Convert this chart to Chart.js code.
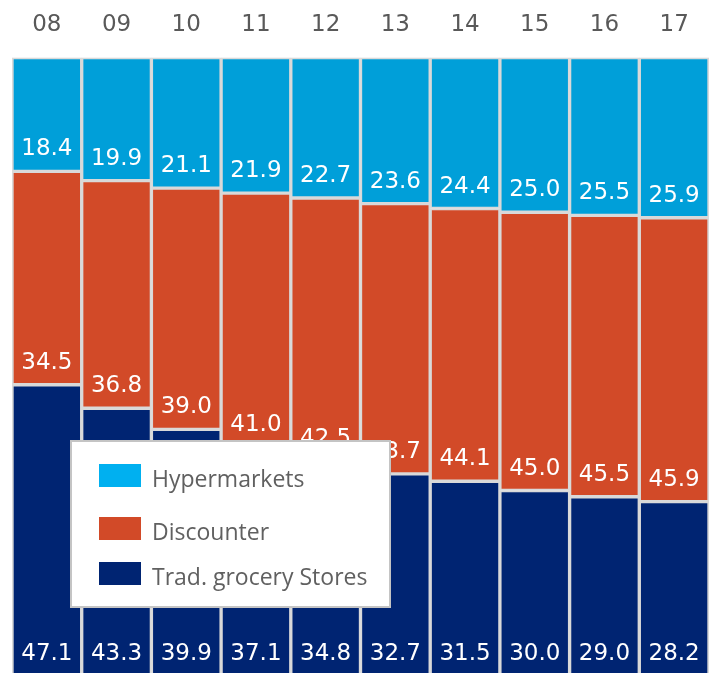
<!DOCTYPE html>
<html>
<head>
<meta charset="utf-8">
<script src="https://cdn.jsdelivr.net/npm/chart.js@4/dist/chart.umd.min.js"></script>
<style>
  html, body { margin: 0; padding: 0; background: #fff; }
  #wrap { width: 709px; height: 673px; }
</style>
</head>
<body>
<div id="wrap"><canvas id="share"></canvas></div>
<script>
// Market share by store format, years 2008-2017 (%)
var years = ["08", "09", "10", "11", "12", "13", "14", "15", "16", "17"];
var tradGrocery = [47.1, 43.3, 39.9, 37.1, 34.8, 32.7, 31.5, 30.0, 29.0, 28.2];
var discounter = [34.5, 36.8, 39.0, 41.0, 42.5, 43.7, 44.1, 45.0, 45.5, 45.9];
var hypermarkets = [18.4, 19.9, 21.1, 21.9, 22.7, 23.6, 24.4, 25.0, 25.5, 25.9];

var legendItems = [
    { text: "Hypermarkets", color: "#00b0f0" },
    { text: "Discounter", color: "#d24a28" },
    { text: "Trad. grocery Stores", color: "#002472" }
];

var numberFont = "'DejaVu Sans', Verdana, sans-serif";

// value labels sit just above the bottom edge of each segment
var segmentLabels = {
    id: "segmentLabels",
    afterDatasetsDraw: function(chart) {
        var ctx = chart.ctx;
        ctx.save();
        ctx.fillStyle = "#ffffff";
        ctx.font = "23px " + numberFont;
        ctx.textAlign = "center";
        ctx.textBaseline = "alphabetic";
        chart.data.datasets.forEach(function(ds, i) {
            chart.getDatasetMeta(i).data.forEach(function(bar, j) {
                ctx.fillText(ds.data[j].toFixed(1), bar.x, bar.base - 16);
            });
        });
        ctx.restore();
    }
};

// boxed legend laid over the lower left of the bars
var boxLegend = {
    id: "boxLegend",
    afterDraw: function(chart) {
        var ctx = chart.ctx;
        ctx.save();
        ctx.fillStyle = "#ffffff";
        ctx.fillRect(71, 441, 319, 166);
        ctx.strokeStyle = "#c4c4c4";
        ctx.lineWidth = 2;
        ctx.strokeRect(71, 441, 319, 166);
        ctx.font = "23px 'Open Sans'";
        ctx.textBaseline = "alphabetic";
        ctx.textAlign = "left";
        var rows = [464, 517, 562];
        legendItems.forEach(function(item, i) {
            ctx.fillStyle = item.color;
            ctx.fillRect(99, rows[i], 42, 23);
            ctx.fillStyle = "#606060";
            ctx.fillText(item.text, 152, rows[i] + 22.5);
        });
        ctx.restore();
    }
};

new Chart(document.getElementById("share"), {
    type: "bar",
    data: {
        labels: years,
        datasets: [
            {
                label: "Trad. grocery Stores",
                data: tradGrocery,
                backgroundColor: "#002472"
            },
            {
                label: "Discounter",
                data: discounter,
                backgroundColor: "#d24a28"
            },
            {
                label: "Hypermarkets",
                data: hypermarkets,
                backgroundColor: "#009fd9"
            }
        ].map(function(ds) {
            ds.borderColor = "#d9d9d9";
            ds.borderWidth = 2;
            ds.borderSkipped = false;
            ds.categoryPercentage = 1.0;
            ds.barPercentage = 1.0;
            return ds;
        })
    },
    options: {
        responsive: true,
        maintainAspectRatio: false,
        animation: false,
        layout: {
            padding: { left: 12, right: 0, top: 0, bottom: 0 }
        },
        plugins: {
            legend: { display: false },
            tooltip: { enabled: false }
        },
        scales: {
            x: {
                position: "top",
                stacked: true,
                grid: { display: false },
                border: { display: false },
                ticks: {
                    color: "#595959",
                    padding: 11,
                    font: { family: numberFont, size: 23 }
                }
            },
            y: {
                display: false,
                stacked: true,
                min: 0.5,
                max: 100
            }
        }
    },
    plugins: [segmentLabels, boxLegend]
});
</script>
</body>
</html>
